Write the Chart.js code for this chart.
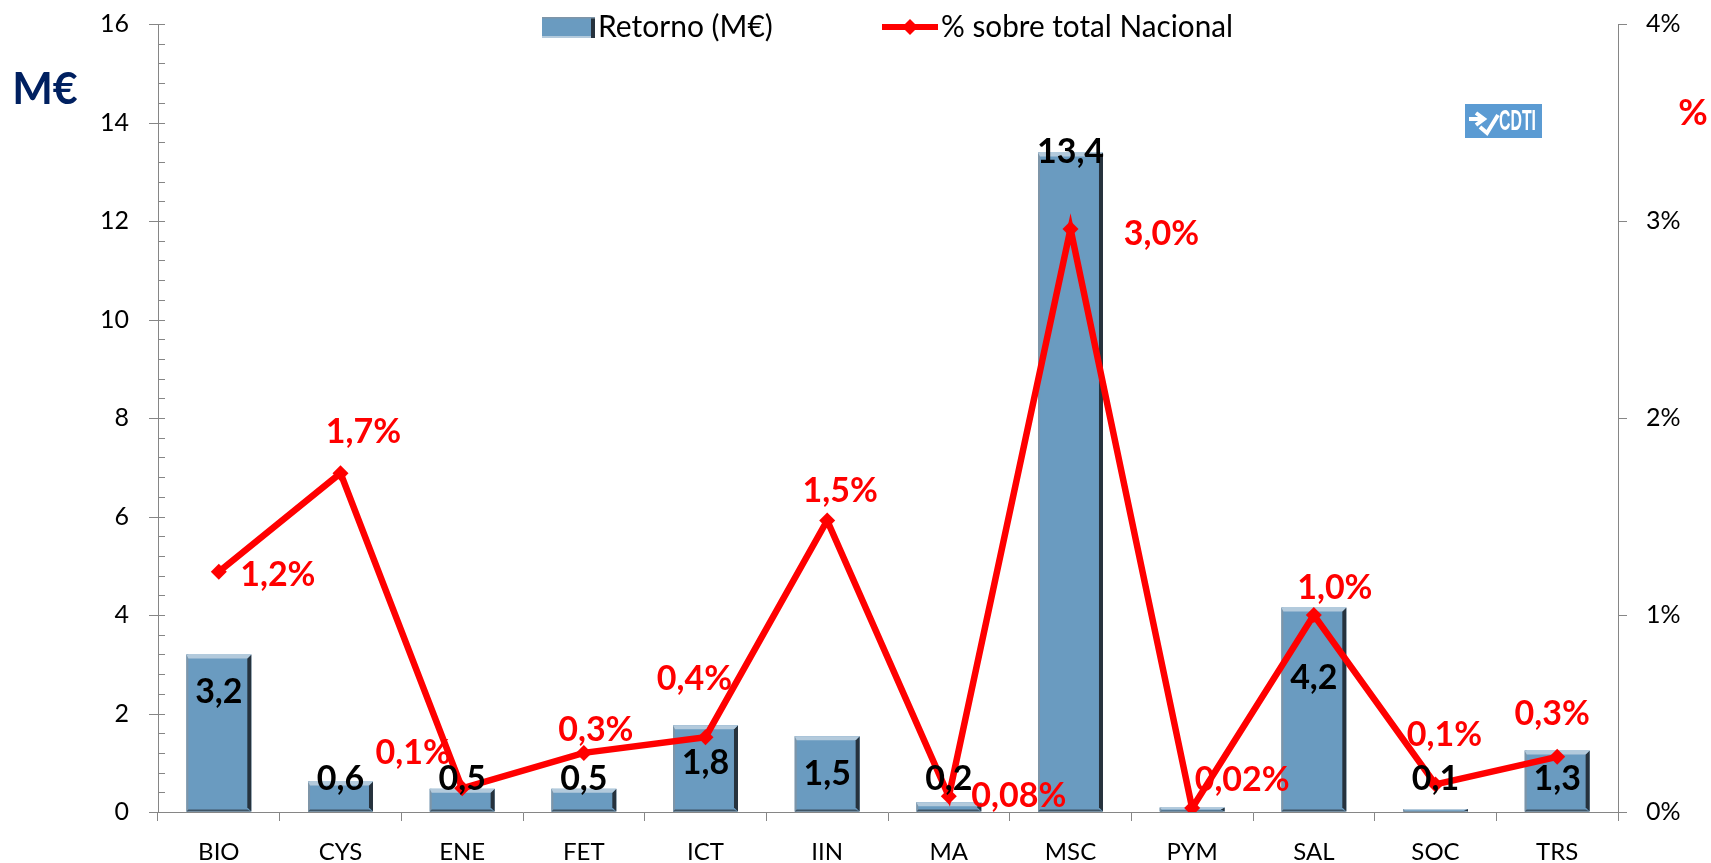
<!DOCTYPE html>
<html lang="es">
<head>
<meta charset="utf-8">
<title>Retorno por área</title>
<script src="https://cdn.jsdelivr.net/npm/chart.js@4.4.1/dist/chart.umd.min.js"></script>
<style>
    html, body { margin: 0; padding: 0; background: #fff; }
    #grafico { display: block; }
</style>
</head>
<body>
<canvas id="grafico" width="1711" height="863"></canvas>
<script>
// ========== DATOS ==========
const categorias = ['BIO', 'CYS', 'ENE', 'FET', 'ICT', 'IIN', 'MA', 'MSC', 'PYM', 'SAL', 'SOC', 'TRS'];
const retorno = [3.2, 0.62, 0.47, 0.47, 1.76, 1.54, 0.2, 13.39, 0.09, 4.15, 0.06, 1.25];
const etiquetasRetorno = ['3,2', '0,6', '0,5', '0,5', '1,8', '1,5', '0,2', '13,4', '', '4,2', '0,1', '1,3'];
const porcentaje = [1.22, 1.72, 0.12, 0.30, 0.38, 1.48, 0.08, 2.96, 0.02, 1.0, 0.14, 0.28];
const etiquetasPorcentaje = ['1,2%', '1,7%', '0,1%', '0,3%', '0,4%', '1,5%', '0,08%', '3,0%', '0,02%', '1,0%', '0,1%', '0,3%'];
const ticksMillones = [0, 2, 4, 6, 8, 10, 12, 14, 16];
const ticksPorcentaje = ['0%', '1%', '2%', '3%', '4%'];

const GRIS = '#868686';
const AZUL = '#6a9bc0';
const ROJO = '#ff0000';
const FUENTE = 'Lato, "Open Sans", sans-serif';

// ========== ETIQUETAS (ajuste manual como en el original) ==========
const ajusteRetorno = { MSC: -39, SAL: 32 };
const ajustePorcentaje = {
    BIO: [59, 3], CYS: [23, -41], ENE: [-49, -35], FET: [12, -23],
    ICT: [-11, -58], IIN: [13, -29], MA: [70, 0], MSC: [91, 5],
    PYM: [50, -28], SAL: [21, -27], SOC: [9, -49], TRS: [-5, -43]
};

// ========== PLUGIN: RELIEVE DE BARRAS ==========
const relieveBarras = {
    id: 'relieveBarras',
    afterDatasetDraw(chart, args) {
        if (args.index !== 1) return;
        const ctx = chart.ctx;
        args.meta.data.forEach(el => {
            const p = el.getProps(['x', 'y', 'base', 'width'], true);
            const izq = p.x - p.width / 2, der = p.x + p.width / 2;
            const alto = p.base - p.y;
            const b = Math.min(4, alto / 2);
            ctx.save();
            // borde izquierdo
            ctx.fillStyle = '#7e95a8';
            ctx.fillRect(izq, p.y, 2, alto);
            // borde derecho oscuro
            ctx.fillStyle = '#26323d';
            ctx.beginPath();
            ctx.moveTo(der, p.y);
            ctx.lineTo(der, p.base);
            ctx.lineTo(der - 4, p.base - b);
            ctx.lineTo(der - 4, p.y + b);
            ctx.closePath();
            ctx.fill();
            // borde inferior
            ctx.fillStyle = '#3f5566';
            ctx.beginPath();
            ctx.moveTo(izq, p.base);
            ctx.lineTo(der, p.base);
            ctx.lineTo(der - 4, p.base - b / 2);
            ctx.lineTo(izq + 2, p.base - b / 2);
            ctx.closePath();
            ctx.fill();
            // borde superior claro
            ctx.fillStyle = '#b3cadc';
            ctx.beginPath();
            ctx.moveTo(izq, p.y);
            ctx.lineTo(der, p.y);
            ctx.lineTo(der - 4, p.y + b);
            ctx.lineTo(izq + 2, p.y + b);
            ctx.closePath();
            ctx.fill();
            ctx.restore();
        });
    }
};

// ========== PLUGIN: EJES, ETIQUETAS, LEYENDA ==========
const decoracion = {
    id: 'decoracion',
    afterDraw(chart) {
        const ctx = chart.ctx;
        const yIzq = chart.scales.y;
        const yDer = chart.scales.y2;
        const xEje = yIzq.right;

        // marcas del eje izquierdo (principales y secundarias) y del derecho
        ctx.save();
        ctx.strokeStyle = GRIS;
        ctx.lineWidth = 1;
        for (let i = 0; i <= 40; i++) {
            const v = i * 0.4;
            const py = Math.round(yIzq.getPixelForValue(v)) + 0.5;
            ctx.beginPath();
            if (i % 5 === 0) { ctx.moveTo(xEje - 9, py); ctx.lineTo(xEje + 7, py); }
            else { ctx.moveTo(xEje, py); ctx.lineTo(xEje + 7, py); }
            ctx.stroke();
        }
        yDer.ticks.forEach(t => {
            const py = Math.round(yDer.getPixelForValue(t.value)) + 0.5;
            ctx.beginPath();
            ctx.moveTo(yDer.left, py);
            ctx.lineTo(yDer.left + 9, py);
            ctx.stroke();
        });
        ctx.restore();

        // etiquetas de las barras
        const metaBar = chart.getDatasetMeta(1);
        ctx.save();
        ctx.font = 'bold 34px ' + FUENTE;
        ctx.textAlign = 'center';
        ctx.textBaseline = 'middle';
        ctx.fillStyle = '#000';
        metaBar.data.forEach((el, i) => {
            if (!etiquetasRetorno[i]) return;
            const p = el.getProps(['x', 'y', 'base'], true);
            let cy = Math.min(p.y + 38, p.base - 32);
            cy += ajusteRetorno[categorias[i]] || 0;
            ctx.fillText(etiquetasRetorno[i], p.x, cy);
        });

        // etiquetas de porcentaje
        const metaLinea = chart.getDatasetMeta(0);
        ctx.fillStyle = ROJO;
        metaLinea.data.forEach((el, i) => {
            const d = ajustePorcentaje[categorias[i]] || [0, -30];
            ctx.fillText(etiquetasPorcentaje[i], el.x + d[0], el.y + d[1]);
        });
        ctx.restore();

        // titulos de ejes
        ctx.save();
        ctx.textBaseline = 'middle';
        ctx.textAlign = 'center';
        ctx.font = 'bold 43px ' + FUENTE;
        ctx.fillStyle = '#002060';
        ctx.fillText('M€', 45, 90);
        ctx.font = 'bold 36px ' + FUENTE;
        ctx.fillStyle = ROJO;
        ctx.fillText('%', 1693, 113);
        ctx.restore();

        // leyenda
        ctx.save();
        ctx.fillStyle = AZUL;
        ctx.fillRect(542, 17, 53, 21);
        ctx.fillStyle = '#b3cadc';
        ctx.fillRect(542, 36, 53, 2);
        ctx.fillStyle = '#26323d';
        ctx.fillRect(591, 17, 4, 21);
        ctx.fillStyle = '#7e95a8';
        ctx.fillRect(542, 17, 53, 1.5);
        ctx.strokeStyle = ROJO;
        ctx.lineWidth = 6;
        ctx.beginPath();
        ctx.moveTo(882, 27);
        ctx.lineTo(938, 27);
        ctx.stroke();
        ctx.fillStyle = ROJO;
        ctx.beginPath();
        ctx.moveTo(910, 19); ctx.lineTo(918, 27); ctx.lineTo(910, 35); ctx.lineTo(902, 27);
        ctx.closePath();
        ctx.fill();
        ctx.fillStyle = '#000';
        ctx.font = '30px ' + FUENTE;
        ctx.textBaseline = 'middle';
        ctx.textAlign = 'left';
        ctx.fillText(chart.data.datasets[1].label, 598, 27, 176);
        ctx.fillText(chart.data.datasets[0].label, 941, 27, 292);
        ctx.restore();

        // logotipo CDTI
        ctx.save();
        ctx.fillStyle = '#5b9bd3';
        ctx.fillRect(1465, 104, 77, 34);
        ctx.strokeStyle = '#fff';
        ctx.fillStyle = '#fff';
        ctx.lineWidth = 4;
        ctx.beginPath();
        ctx.moveTo(1469, 119); ctx.lineTo(1484, 119);
        ctx.stroke();
        ctx.beginPath();
        ctx.moveTo(1476, 113); ctx.lineTo(1484, 119); ctx.lineTo(1476, 125);
        ctx.stroke();
        ctx.beginPath();
        ctx.moveTo(1480, 127); ctx.lineTo(1487, 133); ctx.lineTo(1498, 115);
        ctx.stroke();
        ctx.font = 'bold 30px "Liberation Sans", sans-serif';
        ctx.textBaseline = 'middle';
        ctx.textAlign = 'left';
        ctx.fillText('CDTI', 1499, 122, 37);
        ctx.restore();
    }
};

// ========== GRAFICO ==========
const ctx = document.getElementById('grafico').getContext('2d');
new Chart(ctx, {
    type: 'bar',
    data: {
        labels: categorias,
        datasets: [
            {
                type: 'line',
                label: '% sobre total Nacional',
                data: porcentaje,
                yAxisID: 'y2',
                borderColor: ROJO,
                backgroundColor: ROJO,
                borderWidth: 6.5,
                pointStyle: 'rectRot',
                pointRadius: 8,
                pointBackgroundColor: ROJO,
                pointBorderColor: ROJO,
                pointBorderWidth: 0,
                tension: 0,
                order: 0
            },
            {
                type: 'bar',
                label: 'Retorno (M€)',
                data: retorno,
                yAxisID: 'y',
                backgroundColor: AZUL,
                borderWidth: 0,
                categoryPercentage: 1,
                barPercentage: 0.534,
                order: 1
            }
        ]
    },
    options: {
        responsive: false,
        devicePixelRatio: 1,
        animation: false,
        layout: { padding: { top: 24, left: 0, right: 0, bottom: 0 } },
        plugins: {
            legend: { display: false },
            tooltip: { enabled: false }
        },
        scales: {
            x: {
                offset: true,
                grid: { display: true, drawOnChartArea: false, drawTicks: true, tickLength: 9, color: GRIS, offset: true },
                border: { display: true, color: GRIS, width: 1 },
                ticks: { color: '#000', font: { family: FUENTE, size: 24 }, padding: 17, maxRotation: 0 },
                afterFit(scale) { scale.height = 51; }
            },
            y: {
                position: 'left',
                min: ticksMillones[0],
                max: ticksMillones[ticksMillones.length - 1],
                afterBuildTicks(scale) { scale.ticks = ticksMillones.map(v => ({ value: v })); },
                grid: { display: true, drawOnChartArea: false, drawTicks: true, tickLength: 25, color: 'rgba(0,0,0,0)' },
                border: { display: true, color: GRIS, width: 1 },
                ticks: { color: '#000', font: { family: FUENTE, size: 25 }, padding: 4 },
                afterFit(scale) { scale.width = 158; }
            },
            y2: {
                position: 'right',
                min: 0,
                max: 4,
                afterBuildTicks(scale) { scale.ticks = ticksPorcentaje.map((t, i) => ({ value: i })); },
                grid: { display: true, drawOnChartArea: false, drawTicks: true, tickLength: 25, color: 'rgba(0,0,0,0)' },
                border: { display: true, color: GRIS, width: 1 },
                ticks: {
                    color: '#000',
                    font: { family: FUENTE, size: 25 },
                    padding: 3,
                    callback: (v, i) => ticksPorcentaje[i]
                },
                afterFit(scale) { scale.width = 93; }
            }
        }
    },
    plugins: [relieveBarras, decoracion]
});
</script>
</body>
</html>
